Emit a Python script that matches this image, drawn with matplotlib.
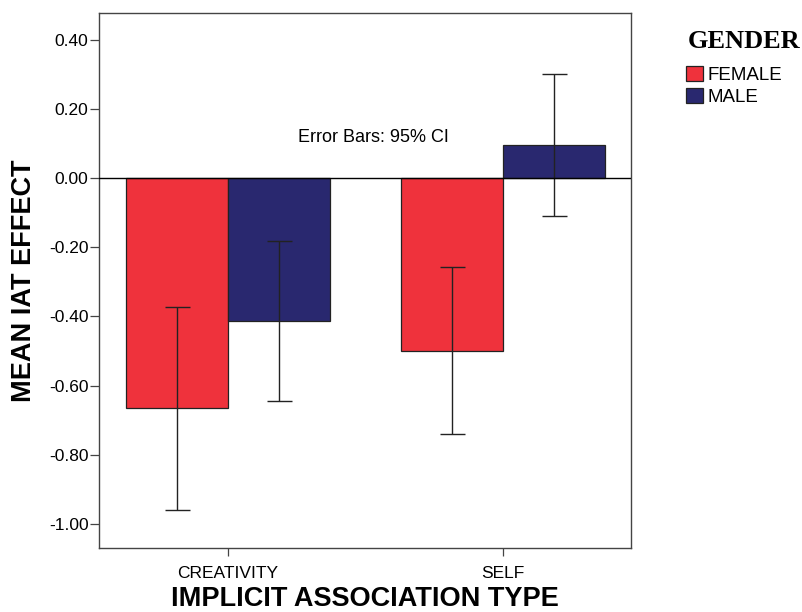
import numpy as np
import matplotlib
matplotlib.use("Agg")
import matplotlib.pyplot as plt
from matplotlib.patches import Patch

# Data
categories = ["CREATIVITY", "SELF"]
groups = ["FEMALE", "MALE"]
female_mean = [-0.665, -0.500]
male_mean = [-0.413, 0.095]
female_ci_low = [-0.958, -0.740]
female_ci_high = [-0.372, -0.256]
male_ci_low = [-0.644, -0.109]
male_ci_high = [-0.181, 0.301]
yticks = [0.40, 0.20, 0.00, -0.20, -0.40, -0.60, -0.80, -1.00]

red = "#EF323C"
navy = "#29286F"

plt.rcParams["font.family"] = ["Liberation Sans", "DejaVu Sans"]

fig = plt.figure(figsize=(8.02, 6.12), dpi=100)
ax = fig.add_axes([0.1234, 0.1046, 0.7866 - 0.1234, 0.9788 - 0.1046])

x = np.arange(len(categories))
w = 0.371

f_err = [np.array(female_mean) - np.array(female_ci_low),
         np.array(female_ci_high) - np.array(female_mean)]
m_err = [np.array(male_mean) - np.array(male_ci_low),
         np.array(male_ci_high) - np.array(male_mean)]

ax.bar(x - w / 2, female_mean, w, color=red, edgecolor="#222222", linewidth=0.9, zorder=2)
ax.bar(x + w / 2, male_mean, w, color=navy, edgecolor="#222222", linewidth=0.9, zorder=2)
ax.errorbar(x - w / 2, female_mean, yerr=f_err, fmt="none", ecolor="#222222",
            elinewidth=1.0, capsize=9, capthick=1.0, zorder=3)
ax.errorbar(x + w / 2, male_mean, yerr=m_err, fmt="none", ecolor="#222222",
            elinewidth=1.0, capsize=9, capthick=1.0, zorder=3)

ax.axhline(0, color="black", linewidth=1.0, zorder=4)

ax.set_xlim(-0.469, 1.465)
ax.set_ylim(-1.069, 0.477)
ax.set_yticks(yticks)
ax.set_yticklabels([f"{v:.2f}" for v in yticks])
ax.set_xticks(x)
ax.set_xticklabels(categories)
ax.tick_params(axis="y", length=6.5, width=0.9, labelsize=12.5, pad=1, color="#444444")
ax.tick_params(axis="x", length=6, width=0.9, labelsize=12.5, pad=7, color="#444444")
for s in ax.spines.values():
    s.set_color("#444444")
    s.set_linewidth(1.0)

ax.set_ylabel("MEAN IAT EFFECT", fontsize=19.5, fontweight="bold", labelpad=8.5)
ax.set_xlabel("IMPLICIT ASSOCIATION TYPE", fontsize=19.5, fontweight="bold", labelpad=3.5)

ax.text(0.53, 0.116, "Error Bars: 95% CI", fontsize=13, ha="center", va="center",
        transform=ax.transData)

# legend: title as its own text, entries below
fig.text(688 / 802, 1 - 48 / 612, "GENDER", fontsize=19, fontweight="bold",
         family="Liberation Serif", ha="left", va="baseline")
handles = [Patch(facecolor=red, edgecolor="#222222", linewidth=0.9),
           Patch(facecolor=navy, edgecolor="#222222", linewidth=0.9)]
leg = ax.legend(handles, groups, loc="upper left", bbox_to_anchor=(686 / 802, 1 - 66 / 612),
                bbox_transform=fig.transFigure, frameon=False, fontsize=13.5,
                handlelength=0.9, handleheight=0.85, handletextpad=0.25,
                labelspacing=0.23, borderpad=0, borderaxespad=0)

fig.savefig("out.png", dpi=100)
